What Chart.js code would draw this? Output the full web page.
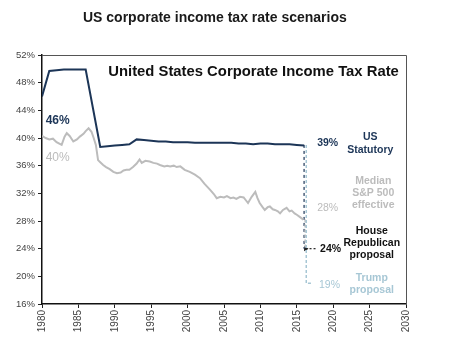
<!DOCTYPE html>
<html><head><meta charset="utf-8">
<script src="https://cdn.jsdelivr.net/npm/chart.js@4.4.1/dist/chart.umd.min.js"></script>
<style>html,body{margin:0;padding:0;background:#fff;}#wrap{width:469px;height:351px;}</style>
</head><body><div id="wrap"><canvas id="c" width="469" height="351"></canvas></div>
<script>
// ---- data ----
const statYears = [1980,1981,1982,1983,1984,1985,1986,1987,1988,1989,1990,1991,1992,1993,1994,1995,1996,1997,1998,1999,2000,2001,2002,2003,2004,2005,2006,2007,2008,2009,2010,2011,2012,2013,2014,2015,2016];
const statRates = [46.0,49.7,49.8,49.9,49.9,49.9,49.9,44.3,38.7,38.8,38.9,39.0,39.1,39.8,39.7,39.6,39.5,39.5,39.4,39.4,39.4,39.3,39.3,39.3,39.3,39.3,39.3,39.2,39.2,39.1,39.2,39.2,39.1,39.1,39.1,39.0,38.9];

const medianYears = [1980,1980.5,1981,1981.5,1982,1982.7,1983.1,1983.4,1983.8,1984.3,1984.8,1985.2,1985.7,1986.0,1986.4,1986.8,1987.1,1987.4,1987.7,1988.0,1988.4,1988.8,1989.3,1989.8,1990.3,1990.8,1991.2,1991.6,1992.0,1992.5,1993.0,1993.4,1993.7,1994.2,1994.8,1995.3,1995.8,1996.2,1996.8,1997.2,1997.6,1998.1,1998.5,1999.0,1999.6,2000.3,2001.0,2001.7,2002.3,2003.1,2003.6,2004.0,2004.5,2005.0,2005.4,2005.9,2006.3,2006.7,2007.2,2007.7,2008.0,2008.3,2008.8,2009.3,2009.6,2009.9,2010.3,2010.6,2011.0,2011.3,2011.7,2012.0,2012.4,2012.7,2013.1,2013.6,2014.0,2014.3,2014.7,2015.0,2015.4,2015.9];
const medianRates = [40.3,40.0,39.8,39.9,39.4,39.0,40.2,40.7,40.3,39.5,39.8,40.2,40.6,41.0,41.4,40.9,40.0,39.0,36.8,36.5,36.1,35.8,35.5,35.1,34.9,35.0,35.3,35.4,35.4,35.8,36.3,36.9,36.4,36.7,36.6,36.4,36.3,36.1,35.9,36.0,35.9,36.0,35.8,35.9,35.4,35.1,34.7,34.2,33.4,32.5,31.9,31.3,31.5,31.4,31.6,31.3,31.4,31.2,31.5,31.4,31.0,30.6,31.5,32.2,31.3,30.6,30.0,29.6,30.0,30.1,29.7,29.6,29.4,29.1,29.6,29.9,29.4,29.5,29.1,28.9,28.6,28.2];

const proposalYear = 2016;
const statutoryNow = 39;
const medianNow = 28.2;
const houseRate = 24;
const trumpRate = 19;

const yTicks = [16,20,24,28,32,36,40,44,48,52];
const xTicks = [1980,1985,1990,1995,2000,2005,2010,2015,2020,2025,2030];

// ---- colours ----
const NAVY = '#1c3557';
const GRAY = '#bcbcbc';
const LBLUE = '#a7c7d5';
const FONT = '"Liberation Sans", Arial, sans-serif';

const zip = (xs, ys) => xs.map((v, i) => ({x: v, y: ys[i]}));

const textPlugin = {
  id: 'texts',
  afterDatasetsDraw(chart) {
    const {ctx, scales: {x, y}, chartArea: a} = chart;
    ctx.save();
    // frame (top and right)
    ctx.strokeStyle = '#555'; ctx.lineWidth = 1;
    ctx.beginPath();
    ctx.moveTo(a.left, a.top + 0.5); ctx.lineTo(a.right + 0.5, a.top + 0.5); ctx.lineTo(a.right + 0.5, a.bottom);
    ctx.stroke();

    const fit = (txt, weight, base, target) => {
      ctx.font = weight + ' ' + base + 'px ' + FONT;
      const w = ctx.measureText(txt).width;
      return base * target / w;
    };
    ctx.textBaseline = 'middle';
    // chart title
    let s = fit('US corporate income tax rate scenarios', 'bold', 14, 264);
    ctx.font = 'bold ' + s + 'px ' + FONT; ctx.fillStyle = '#1a1a1a'; ctx.textAlign = 'left';
    ctx.fillText('US corporate income tax rate scenarios', 83, 18);
    // inner header
    s = fit('United States Corporate Income Tax Rate', 'bold', 15, 291);
    ctx.font = 'bold ' + s + 'px ' + FONT; ctx.fillStyle = '#111';
    ctx.fillText('United States Corporate Income Tax Rate', x.getPixelForValue(1989.1), y.getPixelForValue(49.5));

    const put = (txt, xv, yv, color, weight, size, align) => {
      ctx.font = weight + ' ' + size + 'px ' + FONT;
      ctx.fillStyle = color; ctx.textAlign = align;
      ctx.fillText(txt, x.getPixelForValue(xv), y.getPixelForValue(yv));
    };
    put('46%', 1980.5, 42.55, NAVY, 'bold', 12, 'left');
    put('40%', 1980.5, 37.1, GRAY, 'normal', 12, 'left');

    put('39%', 2017.8, 39.2, NAVY, 'bold', 10.5, 'left');
    put('US', 2025.1, 40.1, NAVY, 'bold', 10.5, 'center');
    put('Statutory', 2025.1, 38.2, NAVY, 'bold', 10.5, 'center');

    put('Median', 2025.5, 33.8, GRAY, 'bold', 10.5, 'center');
    put('S&P 500', 2025.5, 32.05, GRAY, 'bold', 10.5, 'center');
    put('effective', 2025.5, 30.3, GRAY, 'bold', 10.5, 'center');
    put('28%', 2017.8, 29.8, GRAY, 'normal', 10.5, 'left');

    put('House', 2025.3, 26.6, '#111', 'bold', 10.5, 'center');
    put('Republican', 2025.3, 24.85, '#111', 'bold', 10.5, 'center');
    put('proposal', 2025.3, 23.1, '#111', 'bold', 10.5, 'center');
    put('24%', 2018.2, 23.9, '#111', 'bold', 10.5, 'left');

    put('19%', 2018.05, 18.8, LBLUE, 'normal', 10.5, 'left');
    put('Trump', 2025.3, 19.7, LBLUE, 'bold', 10.5, 'center');
    put('proposal', 2025.3, 17.95, LBLUE, 'bold', 10.5, 'center');
    ctx.restore();
  }
};

new Chart(document.getElementById('c'), {
  type: 'line',
  data: {
    datasets: [
      {data: zip(medianYears, medianRates), borderColor: GRAY, borderWidth: 2, pointRadius: 0, tension: 0},
      {data: zip(statYears, statRates), borderColor: NAVY, borderWidth: 2, pointRadius: 0, tension: 0},
      {data: [{x: proposalYear + 0.3, y: statutoryNow}, {x: proposalYear + 0.3, y: trumpRate}, {x: proposalYear + 1.0, y: trumpRate}],
       borderColor: LBLUE, borderWidth: 1.5, borderDash: [3, 2], pointRadius: 0},
      {data: [{x: proposalYear + 0.15, y: medianNow}, {x: proposalYear + 0.15, y: houseRate}],
       borderColor: GRAY, borderWidth: 1.5, borderDash: [3, 2], pointRadius: 0},
      {data: [{x: proposalYear, y: statutoryNow}, {x: proposalYear, y: houseRate}],
       borderColor: NAVY, borderWidth: 1.2, borderDash: [3, 3], pointRadius: 0},
      {data: [{x: proposalYear + 0.2, y: houseRate}, {x: proposalYear + 1.7, y: houseRate}],
       borderColor: '#222', borderWidth: 1.2, borderDash: [2, 2],
       pointRadius: [3, 0], pointStyle: 'triangle', rotation: 90, pointBackgroundColor: '#222', pointBorderWidth: 0}
    ]
  },
  options: {
    responsive: false,
    animation: false,
    devicePixelRatio: 1,
    layout: {padding: {top: 55, right: 63, left: 0, bottom: 0}},
    plugins: {legend: {display: false}, tooltip: {enabled: false}, title: {display: false}},
    scales: {
      x: {
        type: 'linear', min: 1980, max: 2030,
        afterBuildTicks: (s) => { s.ticks = xTicks.map(v => ({value: v})); },
        afterFit: (s) => { s.height = 47; },
        ticks: {minRotation: 90, maxRotation: 90, padding: 2, color: '#444', font: {family: FONT, size: 10}, callback: v => String(v)},
        grid: {drawOnChartArea: false, drawTicks: true, tickLength: 4, color: '#222'},
        border: {display: true, color: '#111', width: 1.5}
      },
      y: {
        min: 16, max: 52,
        afterBuildTicks: (s) => { s.ticks = yTicks.map(v => ({value: v})); },
        afterFit: (s) => { s.width = 42; },
        ticks: {padding: 3, color: '#444', font: {family: FONT, size: 9.5}, callback: v => v + '%'},
        grid: {drawOnChartArea: false, drawTicks: true, tickLength: 4, color: '#222'},
        border: {display: true, color: '#111', width: 1.5}
      }
    }
  },
  plugins: [textPlugin]
});
</script>
</body></html>
